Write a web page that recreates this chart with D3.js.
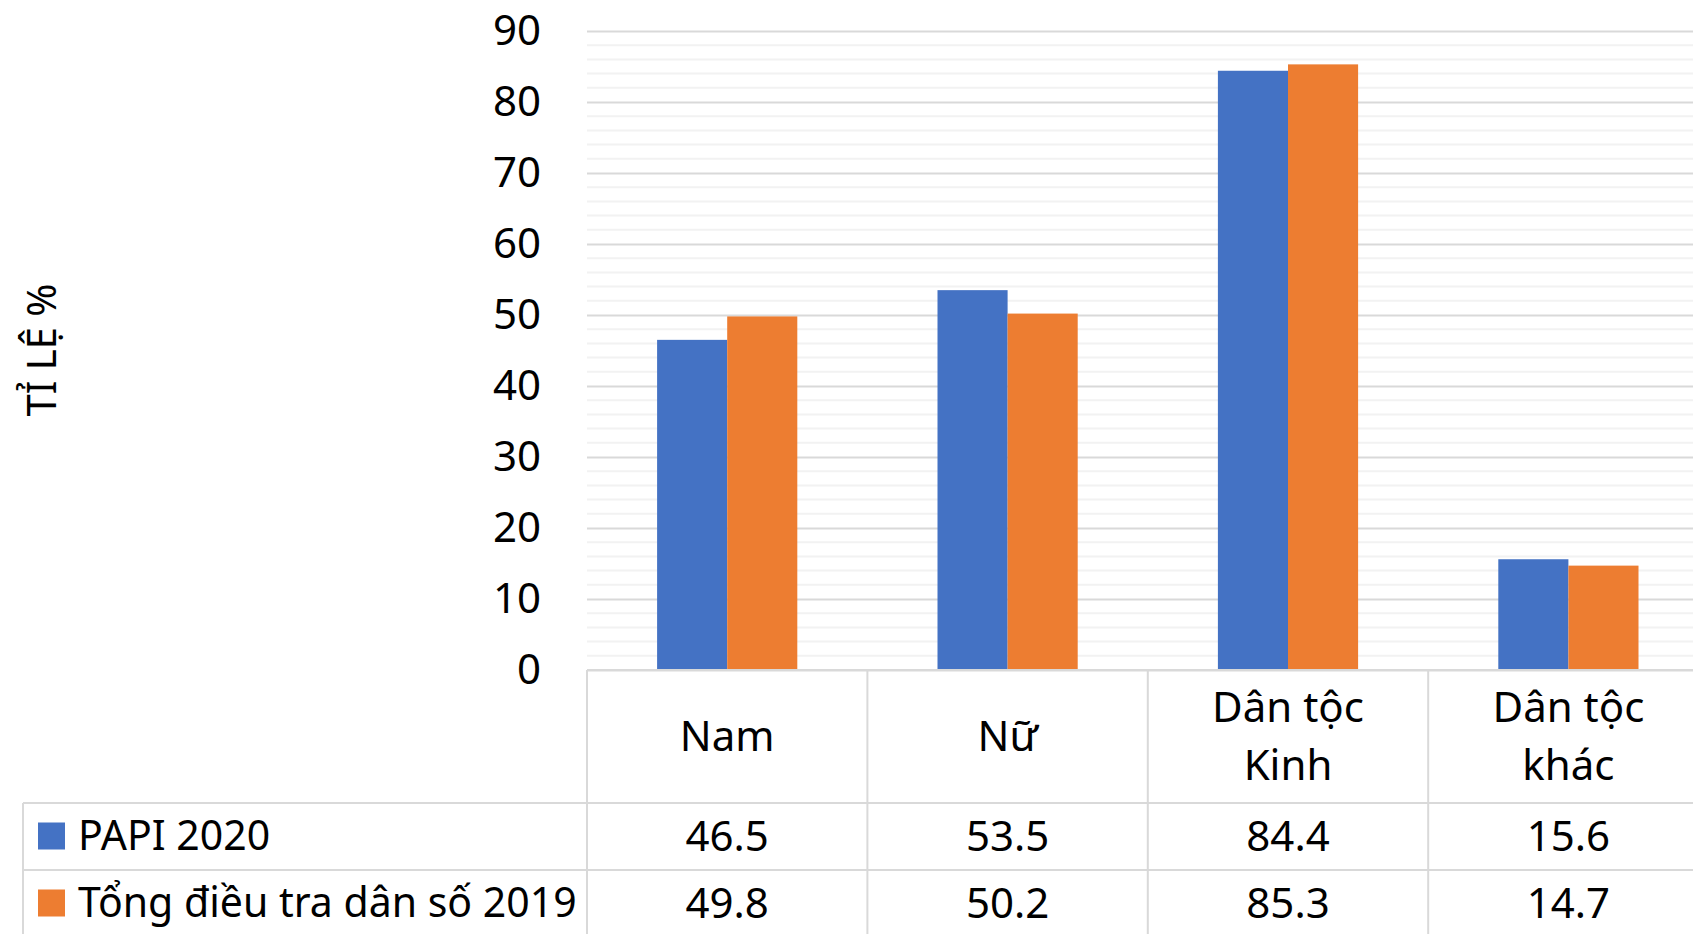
<!DOCTYPE html>
<html>
<head>
<meta charset="utf-8">
<script src="https://cdn.jsdelivr.net/npm/d3@7"></script>
<style>
  html, body { margin: 0; padding: 0; background: #fff; overflow: hidden; }
  svg { display: block; }
</style>
</head>
<body>
<div id="chart"></div>
<script>
// data
const categories = ["Nam", "Nữ", "Dân tộc\nKinh", "Dân tộc\nkhác"];
const seriesNames = ["PAPI 2020", "Tổng điều tra dân số 2019"];
const papi2020 = [46.5, 53.5, 84.4, 15.6];
const census2019 = [49.8, 50.2, 85.3, 14.7];
const yTicks = [0, 10, 20, 30, 40, 50, 60, 70, 80, 90];
const yTitle = "TỈ LỆ %";

const seriesValues = [papi2020, census2019];
const colors = ["#4472C4", "#ED7D31"];

const width = 1693, height = 934;
const font = "'Noto Sans', 'DejaVu Sans', sans-serif";
const fs = 42;

const plot = { left: 587, top: 31, bottom: 670 };
const colW = 280.4;
const row1 = 803, row2 = 870, tableLeft = 23;

const svg = d3.select("#chart").append("svg")
  .attr("width", width)
  .attr("height", height)
  .style("font-family", font);

const x = d3.scaleBand()
  .domain(d3.range(categories.length))
  .range([plot.left, plot.left + colW * categories.length])
  .padding(0);

const xs = d3.scaleBand()
  .domain(d3.range(seriesNames.length))
  .range([colW * 0.25, colW * 0.75])
  .padding(0);

const y = d3.scaleLinear()
  .domain([0, 90])
  .range([plot.bottom, plot.top]);

// minor gridlines
svg.append("g")
  .selectAll("line")
  .data(d3.range(2, 90, 2).filter(v => v % 10 !== 0))
  .join("line")
  .attr("x1", plot.left).attr("x2", width)
  .attr("y1", d => y(d)).attr("y2", d => y(d))
  .attr("stroke", "#f2f2f2")
  .attr("stroke-width", 2);

// major gridlines + tick labels
const yAxis = g => g
  .attr("transform", `translate(${plot.left},0)`)
  .call(d3.axisLeft(y).tickValues(yTicks).tickSize(-(width - plot.left)).tickPadding(46))
  .call(g => g.select(".domain").remove())
  .call(g => g.selectAll(".tick line").attr("stroke", "#d9d9d9").attr("stroke-width", 2))
  .call(g => g.selectAll(".tick text")
    .attr("fill", "#000")
    .style("font-family", font)
    .style("font-size", fs + "px"));

svg.append("g").call(yAxis);

// bars
const groups = svg.append("g")
  .selectAll("g")
  .data(seriesValues)
  .join("g")
  .attr("fill", (d, i) => colors[i]);

groups.selectAll("rect")
  .data((d, si) => d.map((v, ci) => ({ v, ci, si })))
  .join("rect")
  .attr("x", d => x(d.ci) + xs(d.si))
  .attr("width", xs.bandwidth())
  .attr("y", d => y(d.v))
  .attr("height", d => y(0) - y(d.v));

// data table lines
const lineColor = "#d9d9d9";
const tbl = svg.append("g").attr("stroke", lineColor).attr("stroke-width", 2);
tbl.append("line").attr("x1", plot.left).attr("x2", width).attr("y1", plot.bottom).attr("y2", plot.bottom);
[row1, row2].forEach(yy => {
  tbl.append("line").attr("x1", tableLeft).attr("x2", width).attr("y1", yy).attr("y2", yy);
});
tbl.append("line").attr("x1", tableLeft).attr("x2", tableLeft).attr("y1", row1).attr("y2", height);
tbl.selectAll(".vline")
  .data(d3.range(categories.length))
  .join("line")
  .attr("class", "vline")
  .attr("x1", d => x(d)).attr("x2", d => x(d))
  .attr("y1", plot.bottom).attr("y2", height);

// category headers
const header = svg.append("g")
  .attr("text-anchor", "middle")
  .style("font-size", fs + "px");

header.selectAll("text")
  .data(categories)
  .join("text")
  .attr("x", (d, i) => x(i) + x.bandwidth() / 2)
  .attr("y", d => d.includes("\n") ? 707 : 736)
  .each(function (d) {
    const lines = d.split("\n");
    d3.select(this).selectAll("tspan")
      .data(lines)
      .join("tspan")
      .attr("x", d3.select(this).attr("x"))
      .attr("dy", (l, j) => j === 0 ? "0.35em" : "58px")
      .text(l => l);
  });

// value rows + legend keys
const rowsY = [836, 903];
seriesValues.forEach((vals, si) => {
  const cy = rowsY[si];
  svg.append("rect")
    .attr("x", 38).attr("y", cy - 13.5)
    .attr("width", 27).attr("height", 27)
    .attr("fill", colors[si]);
  svg.append("text")
    .attr("x", 78).attr("y", cy).attr("dy", "0.35em")
    .style("font-size", "41px")
    .text(seriesNames[si]);
  svg.append("g")
    .attr("text-anchor", "middle")
    .style("font-size", fs + "px")
    .selectAll("text")
    .data(vals)
    .join("text")
    .attr("x", (d, i) => x(i) + x.bandwidth() / 2)
    .attr("y", cy).attr("dy", "0.35em")
    .text(d => d.toFixed(1));
});

// y title
svg.append("text")
  .attr("transform", "translate(42,350) rotate(-90)")
  .attr("text-anchor", "middle")
  .attr("dy", "0.35em")
  .style("font-size", "40px")
  .text(yTitle);
</script>
</body>
</html>
